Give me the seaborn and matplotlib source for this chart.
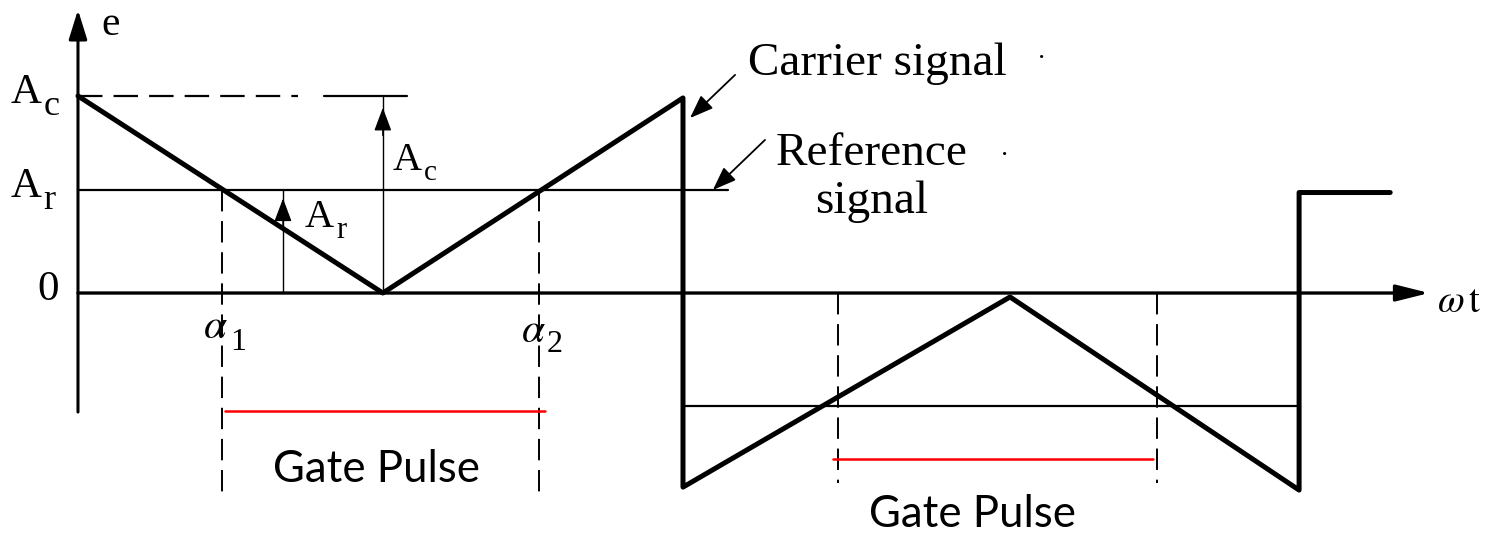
import matplotlib
matplotlib.use("Agg")
import matplotlib.pyplot as plt
import seaborn as sns
import pandas as pd

# ---------------- data (ωt in degrees, e in units of Ac) ----------------
carrier_t = [0.0, 90.7, 180.0, 180.0, 277.3, 363.3, 363.3, 390.4]
carrier_e = [1.0, 0.0, 0.99, -0.985, -0.02, -1.0, 0.51, 0.51]
ref_pos_t = [0.0, 193.4]
ref_pos_e = [0.523, 0.523]
ref_neg_t = [180.0, 363.3]
ref_neg_e = [-0.574, -0.574]
Ac = 1.0
Ar = 0.523
alpha_t = [42.8, 137.2]
alpha_subs = ['1', '2']
neg_cross_t = [226.1, 321.0]
gate1_t = [43.7, 139.0]
gate1_e = -0.599
gate2_t = [224.6, 319.8]
gate2_e = -0.843
level_subs = ['c', 'r']
level_values = [Ac, Ar]

sns.set_theme(style="white")
plt.rcParams['font.family'] = ['Liberation Serif', 'DejaVu Serif']
plt.rcParams['mathtext.fontset'] = 'stix'

fig = plt.figure(figsize=(14.89, 5.35), dpi=100)
ax = fig.add_axes([0, 0, 1, 1])
ax.set_xlim(-23.2, 419.8)
ax.set_ylim(-1.228, 1.487)
ax.axis('off')

K = 'black'

# axes with arrows
ax.annotate('', xy=(0, 1.437), xytext=(0, -0.604),
            arrowprops=dict(arrowstyle='-|>,head_length=0.9,head_width=0.28',
                            lw=2.2, color=K, mutation_scale=20, shrinkA=0, shrinkB=0))
ax.annotate('', xy=(402.0, 0), xytext=(0, 0),
            arrowprops=dict(arrowstyle='-|>,head_length=1.0,head_width=0.25',
                            lw=2.4, color=K, mutation_scale=20, shrinkA=0, shrinkB=0))

# reference signals
sns.lineplot(x=ref_pos_t, y=ref_pos_e, sort=False, estimator=None, color=K, linewidth=1.6, ax=ax)
sns.lineplot(x=ref_neg_t, y=ref_neg_e, sort=False, estimator=None, color=K, linewidth=1.6, ax=ax)

# carrier signal
df = pd.DataFrame({'t': carrier_t, 'e': carrier_e})
sns.lineplot(data=df, x='t', y='e', sort=False, estimator=None, color=K, linewidth=3.6, ax=ax)

# Ac level marker (dashed then solid)
ax.plot([0, 65.5], [Ac, Ac], color=K, lw=1.6, linestyle=(0, (11, 5)))
ax.plot([73.2, 97.9], [Ac, Ac], color=K, lw=1.6)

# dimension arrows
ax.plot([90.7, 90.7], [0, Ac], color=K, lw=1.0)
ax.annotate('', xy=(90.7, 0.94), xytext=(90.7, 0.80),
            arrowprops=dict(arrowstyle='-|>,head_length=0.8,head_width=0.3',
                            lw=1.0, color=K, mutation_scale=18, shrinkA=0, shrinkB=0))
ax.plot([61.0, 61.0], [0, Ar], color=K, lw=1.0)
ax.annotate('', xy=(61.0, 0.48), xytext=(61.0, 0.34),
            arrowprops=dict(arrowstyle='-|>,head_length=0.8,head_width=0.3',
                            lw=1.0, color=K, mutation_scale=18, shrinkA=0, shrinkB=0))

# dashed verticals at crossings
for t in alpha_t:
    ax.plot([t, t], [Ar, -1.01], color=K, lw=1.4, linestyle=(0, (11, 5)))
for t in neg_cross_t:
    ax.plot([t, t], [0, -0.965], color=K, lw=1.4, linestyle=(0, (11, 5)))

# gate pulses (red)
ax.plot(gate1_t, [gate1_e, gate1_e], color='#FF0000', lw=1.8)
ax.plot(gate2_t, [gate2_e, gate2_e], color='#FF0000', lw=1.8)

# level labels on the e axis
for v, sub in zip(level_values, level_subs):
    ax.text(-19.9, v - 0.036, 'A', ha='left', va='baseline', fontsize=31, color=K)
    ax.text(-10.3, v - 0.098, sub, ha='left', va='baseline', fontsize=26, color=K)
ax.text(-8.9, 0.015, '0', ha='center', va='center', fontsize=31, color=K)

ax.text(7.1, 1.31, 'e', ha='left', va='baseline', fontsize=30, color=K)
ax.text(404.3, -0.096, r'$\omega\,\mathrm{t}$', ha='left', va='baseline', fontsize=28, color=K)

# dimension labels
ax.text(93.7, 0.624, 'A', ha='left', va='baseline', fontsize=29, color=K)
ax.text(102.8, 0.574, 'c', ha='left', va='baseline', fontsize=21, color=K)
ax.text(67.5, 0.335, 'A', ha='left', va='baseline', fontsize=29, color=K)
ax.text(77.0, 0.279, 'r', ha='left', va='baseline', fontsize=22, color=K)

# alpha labels
alpha_x = [37.2, 131.8]
alpha_base = [-0.228, -0.249]
sub_x = [45.3, 139.3]
sub_base = [-0.289, -0.299]
for i in range(2):
    ax.text(alpha_x[i], alpha_base[i], r'$\alpha$', ha='left', va='baseline', fontsize=30, color=K)
    ax.text(sub_x[i], sub_base[i], alpha_subs[i], ha='left', va='baseline', fontsize=23, color=K)

# signal names with pointers
ax.text(199.3, 1.107, 'Carrier signal', ha='left', va='baseline', fontsize=34, color=K)
ax.text(285.3, 1.15, '·', ha='left', va='baseline', fontsize=20, color=K)
ax.text(236.2, 0.650, 'Reference', ha='center', va='baseline', fontsize=34, color=K)
ax.text(236.2, 0.406, 'signal', ha='center', va='baseline', fontsize=34, color=K)
ax.text(274.3, 0.66, '·', ha='left', va='baseline', fontsize=20, color=K)
ax.annotate('', xy=(182.1, 0.888), xytext=(195.5, 1.107),
            arrowprops=dict(arrowstyle='-|>,head_length=0.8,head_width=0.3',
                            lw=1.3, color=K, mutation_scale=18, shrinkA=0, shrinkB=0))
ax.annotate('', xy=(188.9, 0.523), xytext=(204.4, 0.777),
            arrowprops=dict(arrowstyle='-|>,head_length=0.8,head_width=0.3',
                            lw=1.3, color=K, mutation_scale=18, shrinkA=0, shrinkB=0))

# gate pulse labels
ax.text(88.7, -0.959, 'Gate Pulse', ha='center', va='baseline', fontsize=31.5,
        family=['Lato', 'DejaVu Sans'], color=K)
ax.text(266.0, -1.188, 'Gate Pulse', ha='center', va='baseline', fontsize=31.5,
        family=['Lato', 'DejaVu Sans'], color=K)

fig.savefig('out.png', dpi=100)
